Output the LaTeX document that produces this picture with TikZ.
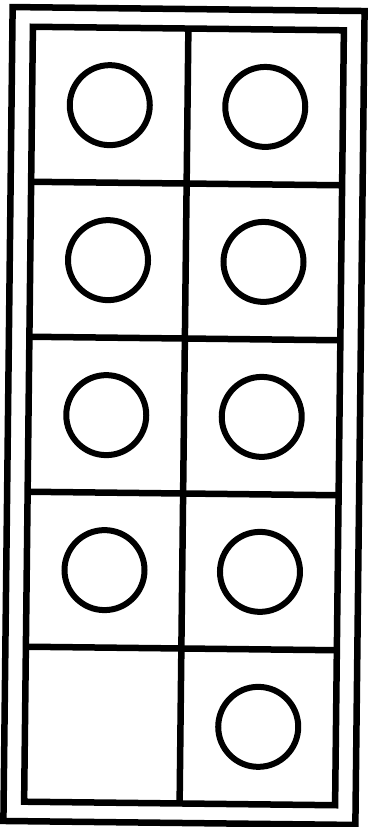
\documentclass[tikz,border=0pt]{standalone}
\begin{document}
\begin{tikzpicture}[x=1pt,y=-1pt,
  frameline/.style={line width=6.5pt, line join=miter},
  gridline/.style={line width=6.5pt},
  counter/.style={circle, draw, line width=6pt, minimum size=80pt, inner sep=0pt}]
\fill[white] (0,0) rectangle (369,827);
\useasboundingbox (0,0) rectangle (369,827);
\begin{scope}[shift={(184,416)}, rotate=-0.65]
  % outer and inner frames
  \draw[frameline] (-176,-407) rectangle (176,407);
  \draw[frameline] (-155.5,-387.5) rectangle (155.5,387.5);
  % grid
  \draw[gridline] (0,-387.5) -- (0,387.5);
  \foreach \yy in {-232.5,-77.5,77.5,232.5}
    \draw[gridline] (-155.5,\yy) -- (155.5,\yy);
  % counters
  \node[counter] (c11) at (-77.75,-310) {};
  \node[counter] (c12) at (77.75,-310) {};
  \node[counter] (c21) at (-77.75,-155) {};
  \node[counter] (c22) at (77.75,-155) {};
  \node[counter] (c31) at (-77.75,0) {};
  \node[counter] (c32) at (77.75,0) {};
  \node[counter] (c41) at (-77.75,155) {};
  \node[counter] (c42) at (77.75,155) {};
  \node[counter] (c52) at (77.75,310) {};
\end{scope}
\end{tikzpicture}
\end{document}
